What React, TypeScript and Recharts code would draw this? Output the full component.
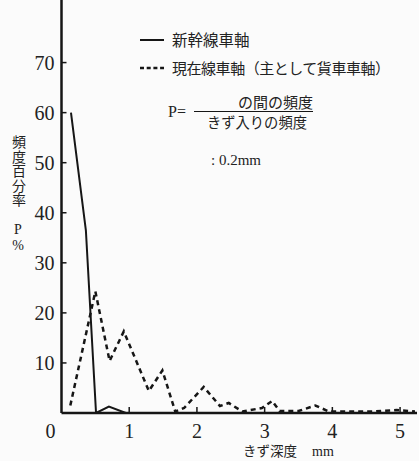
import React from 'react';
import { LineChart, Line, XAxis, YAxis } from 'recharts';

// 新幹線車軸 (solid)
const shinkansenX = [0.14, 0.36, 0.51, 0.7, 0.95, 5.22];
const shinkansenP = [60, 36.5, 0, 1.3, 0, 0];

// 現在線車軸 (dashed)
const zairaiX = [0.13, 0.5, 0.71, 0.92, 1.29, 1.49, 1.68, 1.81, 2.1, 2.34, 2.47, 2.67, 2.96, 3.11, 3.22, 3.5, 3.75, 3.95, 4.6, 4.95, 5.22];
const zairaiP = [1.5, 24.3, 10.4, 16.3, 4.4, 8.5, 0.3, 1.0, 5.2, 1.4, 2.0, 0.3, 1.0, 2.4, 0.4, 0.4, 1.5, 0.3, 0.3, 0.6, 0.3];

const xTicks = [0, 1, 2, 3, 4, 5];
const yTicks = [10, 20, 30, 40, 50, 60, 70];

const seriesNames = ['新幹線車軸', '現在線車軸（主として貨車車軸）'];
const yLabelChars = ['頻', '度', '百', '分', '率'];

const shinkansenData = shinkansenX.map((x, i) => ({ x, p: shinkansenP[i] }));
const zairaiData = zairaiX.map((x, i) => ({ x, p: zairaiP[i] }));

const INK = '#161616';
const FONT = 'Liberation Serif, Noto Sans CJK JP, serif';

const YTick = (props: any) => {
  const { x, y, payload } = props;
  return (
    <g>
      <line x1={x} x2={x + 5} y1={y} y2={y} stroke={INK} strokeWidth={1.5} />
      <text x={x - 7} y={y + 7} textAnchor="end" style={{ fontFamily: FONT, fontSize: 20 }} fill="#222">
        {payload.value}
      </text>
    </g>
  );
};

const XTick = (props: any) => {
  const { x, y, payload } = props;
  const isZero = payload.value === 0;
  return (
    <g>
      {!isZero && <line x1={x} x2={x} y1={y} y2={y - 6} stroke={INK} strokeWidth={1.5} />}
      <text x={isZero ? x - 11 : x} y={y + 25} textAnchor="middle" style={{ fontFamily: FONT, fontSize: 20 }} fill="#222">
        {payload.value}
      </text>
    </g>
  );
};

export default function App() {
  return (
    <div style={{ position: 'fixed', left: 0, top: 0, width: 419, height: 461, background: '#fbfbfb' }}>
      <LineChart
        width={419}
        height={461}
        margin={{ top: 0, right: 2, left: 0, bottom: 0 }}
      >
        <XAxis
          dataKey="x"
          type="number"
          domain={[0, 5.25]}
          ticks={xTicks}
          allowDataOverflow
          height={48}
          tickSize={0}
          tickMargin={0}
          tickLine={false}
          axisLine={{ stroke: INK, strokeWidth: 2.5 }}
          tick={<XTick />}
        />
        <YAxis
          dataKey="p"
          type="number"
          domain={[0, 82.5]}
          ticks={yTicks}
          allowDataOverflow
          width={61.5}
          tickSize={0}
          tickMargin={0}
          tickLine={false}
          axisLine={{ stroke: INK, strokeWidth: 2.5 }}
          tick={<YTick />}
        />
        <Line
          data={shinkansenData}
          dataKey="p"
          name={seriesNames[0]}
          type="linear"
          stroke={INK}
          strokeWidth={2}
          dot={false}
          isAnimationActive={false}
        />
        <Line
          data={zairaiData}
          dataKey="p"
          name={seriesNames[1]}
          type="linear"
          stroke={INK}
          strokeWidth={2.5}
          strokeDasharray="5 4"
          dot={false}
          isAnimationActive={false}
        />
      </LineChart>
      <svg
        width={419}
        height={461}
        style={{ position: 'absolute', left: 0, top: 0, pointerEvents: 'none', fontFamily: FONT }}
        fill="#222"
      >
        {/* legend */}
        <line x1={140} x2={164} y1={40} y2={40} stroke={INK} strokeWidth={2} />
        <text x={172} y={45.5} fontSize={15.5}>{seriesNames[0]}</text>
        <line x1={140} x2={164} y1={68} y2={68} stroke={INK} strokeWidth={2.5} strokeDasharray="4 2.7" />
        <text x={172} y={73.5} fontSize={15} textLength={218} lengthAdjust="spacing">{seriesNames[1]}</text>

        {/* y axis title */}
        {yLabelChars.map((c, i) => (
          <text key={c} x={19} y={142 + i * 14.5 + 5} textAnchor="middle" fontSize={14}>
            {c}
          </text>
        ))}
        <text x={18} y={234} textAnchor="middle" fontSize={14}>P</text>
        <text x={18} y={250} textAnchor="middle" fontSize={14}>%</text>

        {/* formula */}
        <text x={168} y={117} fontSize={16}>P=</text>
        <line x1={194} x2={313} y1={111.5} y2={111.5} stroke={INK} strokeWidth={1.2} />
        <text x={313} y={108} textAnchor="end" fontSize={15}>の間の頻度</text>
        <text x={307} y={128} textAnchor="end" fontSize={14.3}>きず入りの頻度</text>
        <text x={211} y={165} fontSize={15}>: 0.2mm</text>

        {/* x axis title */}
        <text x={243} y={456} fontSize={13.5}>きず深度</text>
        <text x={312} y={456} fontSize={14}>mm</text>
      </svg>
    </div>
  );
}
